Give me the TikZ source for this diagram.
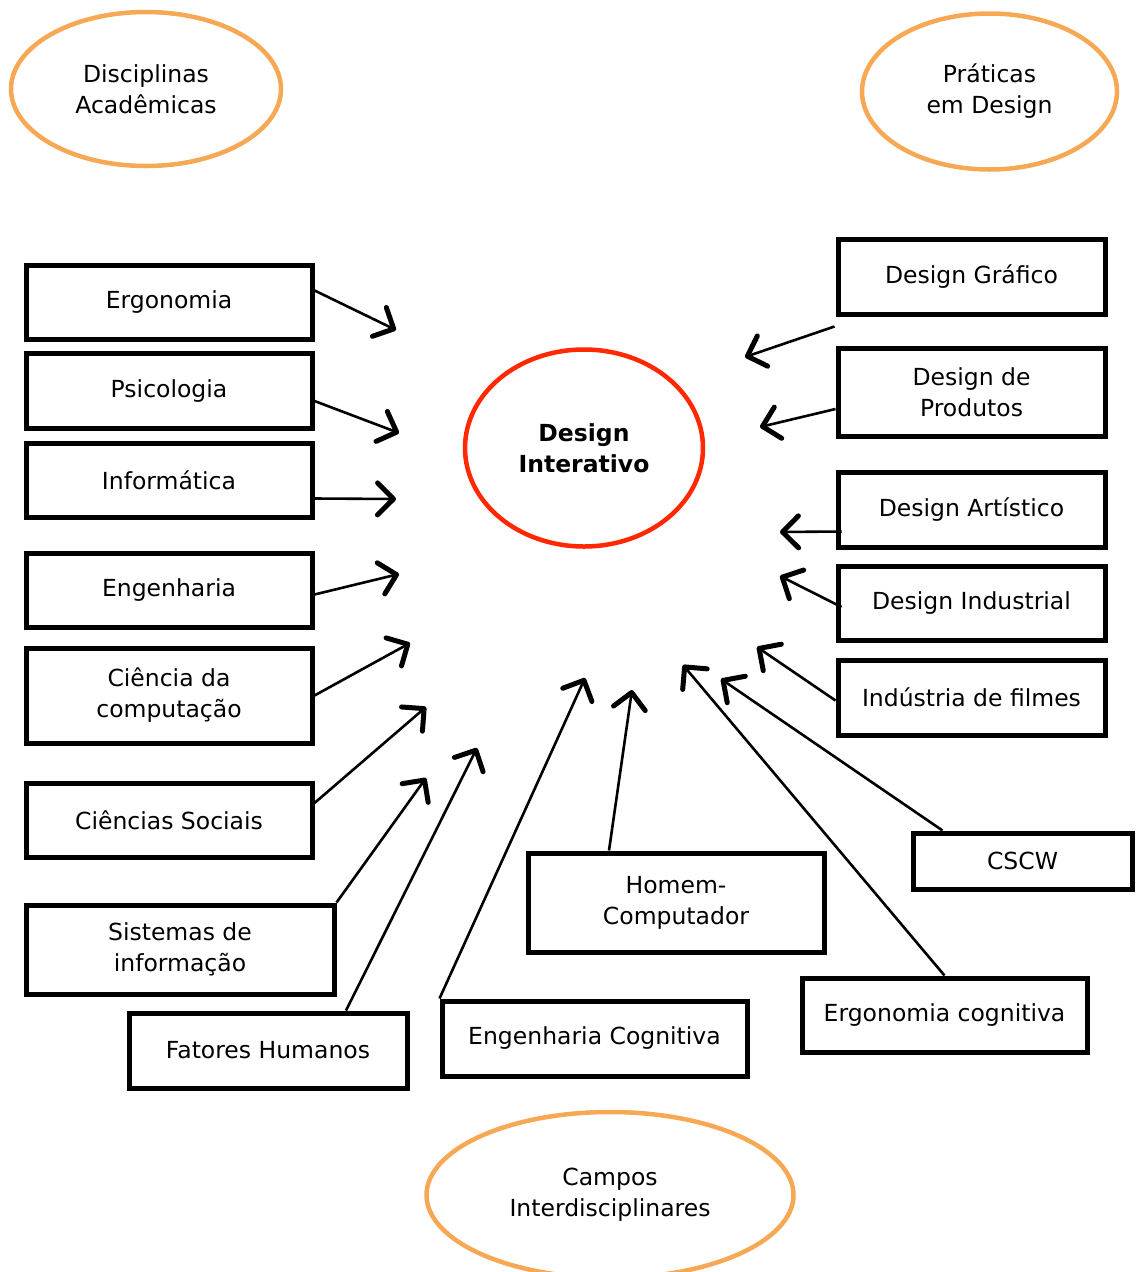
\documentclass[tikz,border=0pt]{standalone}
\usepackage{fontspec}
\setmainfont{DejaVu Sans}
\usetikzlibrary{shapes.geometric,arrows.meta}
\definecolor{orng}{RGB}{247,168,84}
\definecolor{redc}{RGB}{255,40,0}
\begin{document}
\begin{tikzpicture}[x=1pt,y=-1pt,
  every node/.style={font=\fontsize{23.5}{31}\selectfont, align=center, inner sep=0pt},
  box/.style={draw=black, line width=5pt, rectangle, fill=white},
  oval/.style={draw=orng, line width=4.5pt, ellipse},
  arr/.style={line width=2.6pt, -{Straight Barb[length=16pt,width=32pt,line width=5pt,round]}}]
\useasboundingbox (0,0) rectangle (1136,1272);
\clip (0,0) rectangle (1136,1272);
% ellipses
\node[oval, minimum width=270pt, minimum height=154pt] (acad) at (146,89) {Disciplinas\\Acadêmicas};
\node[oval, minimum width=255pt, minimum height=156pt] (prat) at (989.5,91.5) {Práticas\\em Design};
\node[oval, minimum width=367pt, minimum height=166pt] (campos) at (610,1195) {Campos\\Interdisciplinares};
\node[draw=redc, line width=4.5pt, ellipse, minimum width=238pt, minimum height=197pt] (di) at (584,448) {\textbf{Design}\\\textbf{Interativo}};
% left boxes
\node[box, minimum width=286pt, minimum height=74pt] (ergo) at (169,302) {Ergonomia};
\node[box, minimum width=286pt, minimum height=75pt] (psi) at (169,391) {Psicologia};
\node[box, minimum width=286pt, minimum height=74pt] (inf) at (169,480.5) {Informática};
\node[box, minimum width=286pt, minimum height=74pt] (eng) at (169,590.5) {Engenharia};
\node[box, minimum width=286pt, minimum height=95pt] (cc) at (169,695.5) {Ciência da\\computação};
\node[box, minimum width=286pt, minimum height=74pt] (cs) at (169,820) {Ciências Sociais};
\node[box, minimum width=308pt, minimum height=89pt] (si) at (180,949.5) {Sistemas de\\informação};
\node[box, minimum width=278pt, minimum height=75pt] (fh) at (268,1050.5) {Fatores Humanos};
\node[box, minimum width=305pt, minimum height=75pt] (ec) at (594.5,1038.5) {Engenharia Cognitiva};
\node[box, minimum width=296pt, minimum height=99pt] (hc) at (676,902.5) {Homem-\\Computador};
\node[box, minimum width=285pt, minimum height=74pt] (ercog) at (944.5,1015) {Ergonomia cognitiva};
\node[box, minimum width=219pt, minimum height=56pt] (cscw) at (1022.5,861) {CSCW};
% right boxes
\node[box, minimum width=267pt, minimum height=75pt] (dg) at (971.5,276.5) {Design Gráfico};
\node[box, minimum width=267pt, minimum height=88pt] (dp) at (971.5,392) {Design de\\Produtos};
\node[box, minimum width=267pt, minimum height=75pt] (da) at (971.5,509.5) {Design Artístico};
\node[box, minimum width=267pt, minimum height=74pt] (dind) at (971.5,603) {Design Industrial};
\node[box, minimum width=267pt, minimum height=75pt] (ifil) at (971.5,697.5) {Indústria de filmes};
% arrow tips
\coordinate (t1) at (396,330);
\coordinate (t2) at (399,433);
\coordinate (t3) at (396,499);
\coordinate (t4) at (399,574);
\coordinate (t5) at (410,643);
\coordinate (t6) at (426,707);
\coordinate (t7) at (426,778);
\coordinate (t8) at (477,748);
\coordinate (t9) at (585,678);
\coordinate (t10) at (632,690);
\coordinate (t11) at (683,665);
\coordinate (t12) at (721,679);
\coordinate (t13) at (757,647);
\coordinate (t14) at (780,576);
\coordinate (t15) at (780,532);
\coordinate (t16) at (760,427);
\coordinate (t17) at (745,357);
% arrows
\draw[arr] ([yshift=13pt,xshift=-3pt]ergo.east) -- (t1);
\draw[arr] ([yshift=-10pt]psi.east) -- (t2);
\draw[arr] ([yshift=-18pt]inf.east) -- (t3);
\draw[arr] ([yshift=-4pt]eng.east) -- (t4);
\draw[arr] (cc.east) -- (t5);
\draw[arr] ([yshift=17pt]cs.east) -- (t6);
\draw[arr] (si.north east) -- (t7);
\draw[arr] ([xshift=78pt]fh.north) -- (t8);
\draw[arr] (ec.north west) -- (t9);
\draw[arr] ([xshift=-67pt]hc.north) -- (t10);
\draw[arr] (ercog.north) -- (t11);
\draw[arr] ([xshift=-80pt]cscw.north) -- (t12);
\draw[arr] ([yshift=-3pt]ifil.west) -- (t13);
\draw[arr] ([xshift=6pt,yshift=-4pt]dind.west) -- (t14);
\draw[arr] ([xshift=6pt,yshift=-22pt]da.west) -- (t15);
\draw[arr] ([yshift=-17pt]dp.west) -- (t16);
\draw[arr] ([yshift=-10pt,xshift=-1pt]dg.south west) -- (t17);
\end{tikzpicture}
\end{document}
